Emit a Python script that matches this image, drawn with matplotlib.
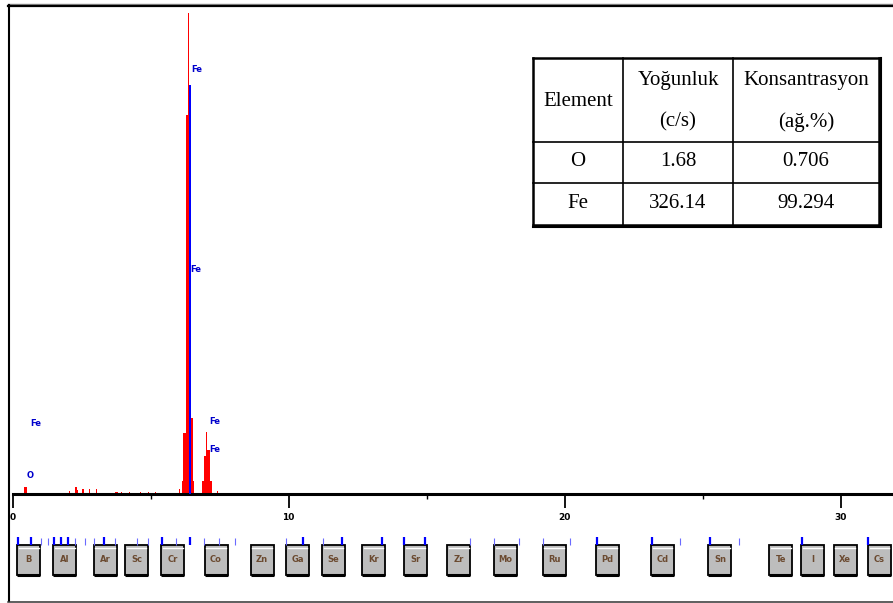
import matplotlib
matplotlib.use("Agg")
import matplotlib.pyplot as plt
from matplotlib.patches import Rectangle

# EDS spectrum - red counts (energy keV, counts, bar width keV)
red_kev = [0.46, 2.05, 2.29, 2.36, 2.55, 2.80, 3.03, 3.76, 3.93, 4.25, 4.64, 4.92, 5.18,
           6.06, 6.36, 6.26, 6.34, 6.38, 6.50,
           7.04, 7.05, 7.11, 7.03, 7.41]
red_cnt = [7, 3, 7, 4, 5, 5, 5, 2.5, 2.5, 2.5, 2.5, 2.5, 2.5,
           5, 13, 61, 379, 481, 76,
           13, 38, 44, 62, 3]
red_wid = [0.09, 0.04, 0.06, 0.05, 0.06, 0.04, 0.04, 0.11, 0.04, 0.04, 0.04, 0.04, 0.04,
           0.04, 0.43, 0.16, 0.12, 0.04, 0.05,
           0.38, 0.21, 0.10, 0.04, 0.04]

# fitted Fe K-alpha line (blue)
blue_kev = [6.43]
blue_cnt = [409]
blue_wid = [0.095]

# peak labels
peak_names = ["Fe", "Fe", "Fe", "Fe", "Fe", "O"]
peak_kev = [6.46, 6.43, 7.12, 7.12, 0.63, 0.51]
peak_cnt = [424, 225, 72, 45, 70, 19]

major_ticks = [0, 10, 20, 30]
minor_ticks = [5, 15, 25]

# periodic table buttons under the axis
buttons = ["B", "Al", "Ar", "Sc", "Cr", "Co", "Zn", "Ga", "Se", "Kr", "Sr",
           "Zr", "Mo", "Ru", "Pd", "Cd", "Sn", "Te", "I", "Xe", "Cs"]
button_kev = [0.59, 1.89, 3.35, 4.49, 5.81, 7.37, 9.04, 10.32, 11.63, 13.08, 14.60,
              16.17, 17.86, 19.62, 21.55, 23.55, 25.63, 27.84, 28.98, 30.16, 31.41]

# KLM line markers
strong_lines = [0.21, 0.67, 1.50, 1.75, 2.02, 3.32, 5.42, 6.44, 10.53, 11.95,
                13.40, 14.19, 14.94, 21.16, 23.16, 25.27, 28.59, 30.98]
weak_lines = [1.04, 1.27, 2.27, 2.61, 2.96, 3.70, 4.50, 4.92, 5.91, 6.92, 7.47,
              8.05, 9.89, 11.24, 16.57, 17.43, 18.34, 19.23, 20.18, 24.18, 26.32]

# result table
col_heads = [["Element"], ["Yoğunluk", "(c/s)"], ["Konsantrasyon", "(ağ.%)"]]
rows = [["O", "1.68", "0.706"],
        ["Fe", "326.14", "99.294"]]

W, H = 893, 603
fig = plt.figure(figsize=(W / 100, H / 100), dpi=100)
fig.patch.set_facecolor("white")

x0 = 12.6
kev_max = (W - x0) / 27.6

# spectrum axes
ax = fig.add_axes([x0 / W, 109 / H, (W - x0) / W, 489 / H])
ax.bar(red_kev, red_cnt, width=red_wid, color="#ff0000", linewidth=0, zorder=2)
ax.bar(blue_kev, blue_cnt, width=blue_wid, color="#0000ff", linewidth=0, zorder=3)
for name, k, c in zip(peak_names, peak_kev, peak_cnt):
    ax.text(k, c, name, color="#0000cc", fontsize=6, fontweight="bold",
            ha="left", va="center", zorder=4)
ax.set_xlim(0, kev_max)
ax.set_ylim(0, 489)
for s in ["top", "left", "right"]:
    ax.spines[s].set_visible(False)
ax.spines["bottom"].set_linewidth(2.2)
ax.set_yticks([])
ax.set_xticks(major_ticks)
ax.set_xticks(minor_ticks, minor=True)
ax.set_xticklabels([str(t) for t in major_ticks], fontsize=6.5, fontweight="bold")
ax.tick_params(axis="x", which="major", direction="out", length=10, width=1.3, pad=4)
ax.tick_params(axis="x", which="minor", direction="out", length=3.5, width=1)
ax.patch.set_alpha(0)

# button strip, y in pixel rows
kax = fig.add_axes([x0 / W, 0, (W - x0) / W, 109 / H])
kax.set_xlim(0, kev_max)
kax.set_ylim(H, 494)
kax.axis("off")
bw = 23 / 27.6
kax.vlines(weak_lines, 538, 545, color="#6a6aff", lw=0.8)
kax.vlines(strong_lines, 537, 545, color="#0000ff", lw=1.6)
for name, k in zip(buttons, button_kev):
    kax.add_patch(Rectangle((k - bw / 2, 545), bw, 30, facecolor="#bdbdbd",
                            edgecolor="black", lw=1.3))
    kax.plot([k - bw / 2, k + bw / 2], [574.5, 574.5], color="black", lw=2.2,
             solid_capstyle="butt")
    kax.plot([k - bw / 2 + 0.06, k + bw / 2 - 0.06], [547.5, 547.5], color="white", lw=1)
    kax.text(k, 560, name, fontsize=6, fontweight="bold", color="#6b4a30",
             ha="center", va="center")

# overlay in pixel coords: frame and table
ov = fig.add_axes([0, 0, 1, 1])
ov.set_xlim(0, W)
ov.set_ylim(H, 0)
ov.axis("off")
ov.patch.set_alpha(0)
ov.plot([8, W], [3.5, 3.5], color="#888888", lw=1)
ov.plot([8, W], [5.5, 5.5], color="black", lw=1.6)
ov.plot([9, 9], [5, 601], color="black", lw=1.5)
ov.plot([8, W], [601.5, 601.5], color="#333333", lw=1.1)

# table grid
tx = [533, 623, 733, 879]
ty = [58, 142, 183, 225]
ov.add_patch(Rectangle((tx[0], ty[0]), tx[-1] - tx[0], ty[-1] - ty[0],
                       facecolor="white", edgecolor="none", zorder=1))
for xv in tx:
    lw = 1.8 if xv in (tx[0], tx[-1]) else 1.2
    ov.plot([xv, xv], [ty[0], ty[-1]], color="black", lw=lw, zorder=2)
for yv in ty:
    lw = 1.8 if yv in (ty[0], ty[-1]) else 1.2
    ov.plot([tx[0], tx[-1]], [yv, yv], color="black", lw=lw, zorder=2)
ov.plot([tx[0], tx[-1] + 1], [ty[-1] + 1.5, ty[-1] + 1.5], color="black", lw=1.5, zorder=2)
ov.plot([tx[-1] + 1.5, tx[-1] + 1.5], [ty[0], ty[-1] + 1.5], color="black", lw=1.5, zorder=2)

tfont = dict(family="Liberation Serif", fontsize=15, color="black",
             ha="center", va="center", zorder=3)
centers = [(tx[i] + tx[i + 1]) / 2 for i in range(3)]
for cx, head in zip(centers, col_heads):
    if len(head) == 1:
        ov.text(cx, 102, head[0], **tfont)
    else:
        ov.text(cx, 81, head[0], **tfont)
        ov.text(cx, 122, head[1], **tfont)
for ry, row in zip([161, 203], rows):
    for cx, val in zip(centers, row):
        ov.text(cx, ry, val, **tfont)

fig.savefig("out.png", dpi=100)
